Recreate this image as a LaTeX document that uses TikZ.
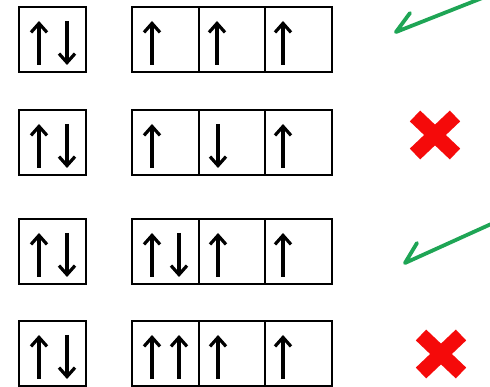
\documentclass[tikz,border=0pt]{standalone}
\usetikzlibrary{arrows.meta}
\definecolor{checkgreen}{RGB}{30,165,85}
\definecolor{crossred}{RGB}{245,10,10}
\begin{document}
\begin{tikzpicture}[x=1pt,y=-1pt,
  orbital/.style={draw, line width=2.6pt, minimum height=65pt, inner sep=0pt, outer sep=0pt, anchor=north west},
  elec/.style={line width=3.2pt, -{Straight Barb[length=9pt,width=16pt]}},
  checkmark/.style={draw=checkgreen, line width=3.8pt, line cap=round, line join=round},
  crossarm/.style={draw=crossred, line width=15pt, line cap=butt}]
\useasboundingbox (0,0) rectangle (490,387);
\clip (0,0) rectangle (490,387);
\fill[white] (0,0) rectangle (490,387);
% rows: top y
\foreach \r/\t in {1/7,2/110,3/219,4/321}{
  \node[orbital, minimum width=67pt] (s\r) at (19,\t) {};
  \node[orbital, minimum width=200pt] (b\r) at (132,\t) {};
  \draw[line width=2.6pt] ([xshift=67pt]b\r.north west) -- ([xshift=67pt]b\r.south west);
  \draw[line width=2.6pt] ([xshift=133pt]b\r.north west) -- ([xshift=133pt]b\r.south west);
  % core orbital pair
  \draw[elec] (39,\t+58) -- (39,\t+14);
  \draw[elec] (67,\t+14) -- (67,\t+58);
  % third p cell
  \draw[elec] (283,\t+58) -- (283,\t+14);
}
% row 1
\draw[elec] (152,65) -- (152,21);
\draw[elec] (217,65) -- (217,21);
% row 2
\draw[elec] (152,168) -- (152,124);
\draw[elec] (218,124) -- (218,168);
% row 3
\draw[elec] (152,277) -- (152,233);
\draw[elec] (179,233) -- (179,277);
\draw[elec] (218,277) -- (218,233);
% row 4
\draw[elec] (152,379) -- (152,335);
\draw[elec] (179,379) -- (179,335);
\draw[elec] (218,379) -- (218,335);
% green ticks
\coordinate (c1a) at (500,-9);
\coordinate (c1b) at (396,32);
\coordinate (c1c) at (410,13);
\draw[checkmark] (c1a) -- (c1b) -- (c1c);
\coordinate (c3a) at (500,220);
\coordinate (c3b) at (405,263);
\coordinate (c3c) at (417,243);
\draw[checkmark] (c3a) -- (c3b) -- (c3c);
% red crosses
\coordinate (x2) at (435,135);
\draw[crossarm] ([shift={(-20,-19)}]x2) -- ([shift={(20,19)}]x2);
\draw[crossarm] ([shift={(-20,19)}]x2) -- ([shift={(20,-19)}]x2);
\coordinate (x4) at (441,354);
\draw[crossarm] ([shift={(-20,-19)}]x4) -- ([shift={(20,19)}]x4);
\draw[crossarm] ([shift={(-20,19)}]x4) -- ([shift={(20,-19)}]x4);
\end{tikzpicture}
\end{document}
